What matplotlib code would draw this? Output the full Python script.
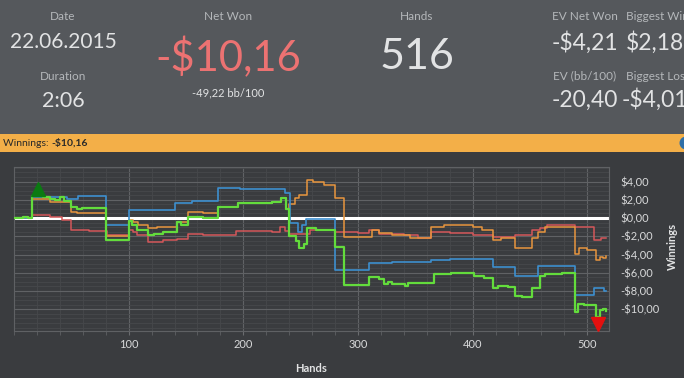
import matplotlib.pyplot as plt
import matplotlib.patches as mpatches
import matplotlib.transforms as mtransforms
from matplotlib.ticker import FuncFormatter, MultipleLocator
import numpy as np

plt.rcParams['font.family'] = ['Lato', 'DejaVu Sans']

# session data (hand number where the value changes, running total in $)
green_hands = [0, 8, 12, 16, 25, 31, 36, 40, 44, 50, 55, 59, 80, 100, 103, 107, 117, 122, 130,
               142, 146, 152, 165, 178, 195, 212, 225, 233, 237, 240, 246, 249, 253, 256, 263,
               280, 288, 310, 318, 323, 326, 330, 341, 344, 366, 381, 401, 410, 418, 422, 428,
               431, 437, 443, 452, 459, 463, 478, 489, 492, 497, 508, 511, 514, 516]
green_vals = [0.0, 0.15, 0.05, 2.45, 2.3, 2.05, 2.0, 2.3, 1.85, 1.2, 0.95, 1.05, -2.4, -0.35,
              -0.75, -1.3, -1.9, -1.7, -1.5, -0.4, -0.75, 0.15, 0.05, 1.25, 1.7, 1.6, 1.8, 2.15,
              1.0, -2.0, -2.5, -3.3, -2.8, -1.1, -1.3, -3.15, -7.35, -6.5, -6.7, -7.2, -7.05,
              -7.2, -7.4, -7.1, -6.1, -6.0, -6.4, -6.6, -7.7, -7.5, -7.4, -7.6, -8.5, -8.6,
              -7.7, -6.4, -6.15, -6.05, -10.3, -9.4, -9.5, -10.85, -10.1, -9.95, -10.16]

blue_hands = [0, 16, 25, 46, 56, 80, 100, 140, 155, 178, 197, 236, 241, 248, 251, 255, 280,
              310, 330, 364, 380, 418, 437, 457, 489, 506, 515, 516]
blue_vals = [0.0, 2.35, 2.25, 2.05, 2.45, -0.77, 0.88, 1.7, 1.9, 3.26, 3.15, 2.7, -0.6, -1.5,
             -0.8, -0.15, -5.65, -4.98, -4.85, -4.55, -4.45, -5.4, -6.4, -5.3, -8.45, -7.7,
             -8.0, -8.0]

red_hands = [0, 16, 31, 42, 50, 65, 81, 100, 104, 107, 117, 130, 142, 152, 165, 194, 225, 232,
             236, 240, 258, 280, 300, 310, 318, 340, 352, 364, 380, 400, 418, 437, 452, 459,
             465, 489, 506, 512, 516]
red_vals = [0.0, 0.33, 0.15, -0.22, -1.3, -1.45, -1.87, -1.3, -1.5, -1.87, -2.6, -2.4, -2.25,
            -1.7, -1.85, -1.4, -1.5, -0.95, -1.4, -1.76, -1.3, -1.5, -1.6, -1.3, -1.7, -1.9,
            -2.15, -1.5, -1.6, -1.87, -2.05, -1.9, -1.3, -1.1, -0.77, -0.95, -2.4, -2.2, -2.2]

orange_hands = [0, 16, 31, 50, 55, 80, 100, 104, 108, 117, 125, 142, 152, 165, 178, 195, 212,
                225, 233, 237, 240, 245, 249, 256, 261, 270, 280, 288, 312, 318, 330, 345, 364,
                375, 400, 408, 418, 425, 437, 452, 457, 463, 489, 493, 500, 508, 511, 514, 516]
orange_vals = [0.0, 2.1, 1.8, 0.7, 0.5, -2.0, -0.2, -0.4, -0.77, -1.1, -0.95, -0.4, 0.7, 0.5,
               1.25, 1.7, 1.6, 1.8, 2.15, 1.0, 1.5, 2.2, 2.5, 4.15, 3.9, 3.6, 2.15, -2.1, -1.3,
               -1.6, -1.9, -2.2, -0.95, -0.77, -1.0, -1.3, -2.4, -2.2, -3.3, -2.2, -1.5, -0.95,
               -3.9, -3.3, -3.5, -4.6, -4.25, -4.4, -4.21]

y_ticks = [4, 2, 0, -2, -4, -6, -8, -10]
x_ticks = [100, 200, 300, 400, 500]

W, H = 684, 378
HEADER = '#55585c'
DARK = '#3a3c3f'
ORANGE = '#f3af48'


def fx(px):
    return px / W


def fy(py):
    return 1 - py / H


fig = plt.figure(figsize=(W / 100, H / 100), dpi=100)
fig.patch.set_facecolor(DARK)

# header + orange title bar
fig.patches.append(mpatches.Rectangle((0, fy(134)), 1, 134 / H, transform=fig.transFigure,
                                      facecolor=HEADER, edgecolor='none', zorder=0))
fig.patches.append(mpatches.Rectangle((0, fy(152)), 1, 18 / H, transform=fig.transFigure,
                                      facecolor=ORANGE, edgecolor='none', zorder=0))
fig.patches.append(mpatches.Ellipse((fx(686), fy(143)), 13 / W, 13 / H, transform=fig.transFigure,
                                    facecolor='#2f6fa8', edgecolor='none', zorder=1))

lab_c = '#b4b7ba'
val_c = '#e2e3e4'
LAB = 8.5
fig.text(fx(63), fy(17), 'Date', color=lab_c, fontsize=LAB, ha='center', va='center')
fig.text(fx(63), fy(42), '22.06.2015', color=val_c, fontsize=15, ha='center', va='center')
fig.text(fx(63), fy(76), 'Duration', color=lab_c, fontsize=LAB, ha='center', va='center')
fig.text(fx(63), fy(101), '2:06', color=val_c, fontsize=15.5, ha='center', va='center')

fig.text(fx(228), fy(17), 'Net Won', color=lab_c, fontsize=LAB, ha='center', va='center')
fig.text(fx(228), fy(58), '-$10,16', color='#ec7272', fontsize=30, ha='center', va='center')
fig.text(fx(228), fy(93), '-49,22 bb/100', color=val_c, fontsize=8, ha='center', va='center')

fig.text(fx(417), fy(17), 'Hands', color=lab_c, fontsize=LAB, ha='center', va='center')
fig.text(fx(417), fy(57), '516', color=val_c, fontsize=31, ha='center', va='center')

fig.text(fx(585), fy(17), 'EV Net Won', color=lab_c, fontsize=LAB, ha='center', va='center')
fig.text(fx(585), fy(43), '-$4,21', color=val_c, fontsize=16.5, ha='center', va='center')
fig.text(fx(585), fy(76), 'EV (bb/100)', color=lab_c, fontsize=LAB, ha='center', va='center')
fig.text(fx(585), fy(100), '-20,40', color=val_c, fontsize=16.5, ha='center', va='center')
fig.text(fx(626), fy(17), 'Biggest Win', color=lab_c, fontsize=LAB, ha='left', va='center')
fig.text(fx(626), fy(43), '$2,18', color=val_c, fontsize=16.5, ha='left', va='center')
fig.text(fx(626), fy(76), 'Biggest Loss', color=lab_c, fontsize=LAB, ha='left', va='center')
fig.text(fx(622), fy(100), '-$4,01', color=val_c, fontsize=16.5, ha='left', va='center')

t = fig.text(fx(3), fy(143), 'Winnings: ', color='#2a2a2a', fontsize=7.5, ha='left', va='center')
fig.canvas.draw()
bb = t.get_window_extent()
fig.text(bb.x1 / W, fy(143), '-$10,16', color='#2a2a2a', fontsize=7.5, fontweight='bold',
         ha='left', va='center')

# chart
ax = fig.add_axes([fx(14), fy(331), fx(609) - fx(14), (331 - 167) / H])
ax.set_facecolor(DARK)
ax.set_xlim(0, 519)
ax.set_ylim(-12.38, 5.59)

ax.set_xticks(x_ticks)
ax.xaxis.set_minor_locator(MultipleLocator(20))
ax.set_yticks(y_ticks)
ax.yaxis.set_minor_locator(MultipleLocator(0.5))
ax.grid(which='major', color='#606265', lw=0.8)
ax.grid(which='minor', color='#46484b', lw=0.6)
ax.set_axisbelow(True)
for s in ax.spines.values():
    s.set_color('#5f6164')
    s.set_linewidth(0.8)

ax.yaxis.tick_right()
ax.yaxis.set_major_formatter(FuncFormatter(
    lambda v, p: ('-' if v < -1e-9 else '') + '$' + ('%.2f' % abs(v)).replace('.', ',')))
ax.tick_params(axis='y', which='both', length=0, pad=8, labelsize=8, labelcolor='#d8d9da')
ax.tick_params(axis='x', which='major', length=3, color='#6a6c6f', pad=3, labelsize=8,
               labelcolor='#d8d9da')
ax.tick_params(axis='x', which='minor', length=3, color='#5f6164')

ax.axhline(0, color='white', lw=2.2, zorder=2)

ax.step(red_hands, red_vals, where='post', color='#d4575a', lw=1.1, zorder=3)
ax.step(orange_hands, orange_vals, where='post', color='#e8963e', lw=1.1, zorder=3)
ax.step(blue_hands, blue_vals, where='post', color='#3d8fcf', lw=1.2, zorder=4)
ax.step(green_hands, green_vals, where='post', color='#63dc3c', lw=1.6, zorder=5)

# max / min markers
gv = np.array(green_vals)
i_max, i_min = int(np.argmax(gv)), int(np.argmin(gv))
x_max = (green_hands[i_max] + green_hands[i_max + 1]) / 2
x_min = (green_hands[i_min] + green_hands[i_min + 1]) / 2
up = mtransforms.offset_copy(ax.transData, fig=fig, x=0, y=7, units='dots')
down = mtransforms.offset_copy(ax.transData, fig=fig, x=0, y=-7, units='dots')
ax.plot([x_max], [gv[i_max]], marker='^', ms=10, color='#0b7a12', transform=up, zorder=6,
        clip_on=False)
ax.plot([x_min], [gv[i_min]], marker='v', ms=10, color='#e3100f', transform=down, zorder=6,
        clip_on=False)

fig.text(fx(311), fy(368), 'Hands', color='#e2e3e4', fontsize=8, fontweight='bold',
         ha='center', va='center')
fig.text(fx(672), fy(246), 'Winnings', color='#e2e3e4', fontsize=8, fontweight='bold',
         rotation=90, ha='center', va='center')

fig.savefig('out.png', dpi=100, facecolor=fig.get_facecolor())
